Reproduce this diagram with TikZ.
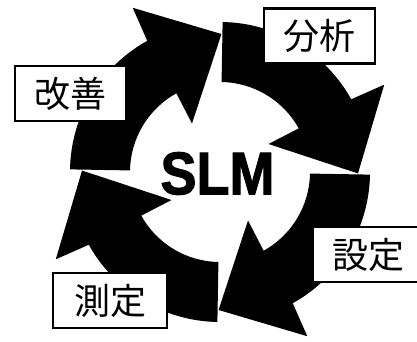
\documentclass[tikz,border=0pt]{standalone}
\usepackage{fontspec}
\newfontfamily\jpfont{Noto Sans CJK JP}
\newfontfamily\slmfont[BoldFeatures={FakeBold=2}]{Liberation Sans}
\begin{document}
\begin{tikzpicture}[x=1pt,y=1pt,
  cyclearrow/.style={fill=black},
  labelbox/.style={draw=black, line width=2.2pt, fill=white, minimum width=111pt,
    minimum height=55pt, inner sep=0pt, font=\jpfont\fontsize{36}{40}\selectfont},
  slmtext/.style={font=\slmfont\bfseries\fontsize{60}{60}\selectfont, inner sep=0pt}
]
\useasboundingbox (0,0) rectangle (417,341);
\fill[white] (0,0) rectangle (417,341);
\begin{scope}[shift={(220,169)}]
\foreach \a in {89,-1,-91,179} {
  \pgfmathsetmacro{\b}{\a-60}
  \pgfmathsetmacro{\ob}{\a-61}
  \pgfmathsetmacro{\tp}{\a-89.6}
  \pgfmathsetmacro{\ib}{\a-59}
  \fill[cyclearrow] (\a:150) arc[start angle=\a, end angle=\b, radius=150]
    -- (\ob:186) -- (\tp:138) -- (\ib:56) -- (\b:90)
    arc[start angle=\b, end angle=\a, radius=90] -- cycle;
}
\end{scope}
\node[labelbox] (bunseki) at (319.5,305) {分析};
\node[labelbox] (kaizen) at (70.5,247.5) {改善};
\node[labelbox, minimum width=114pt] (sokutei) at (110,40.5) {測定};
\node[labelbox] (settei) at (368.5,86.5) {設定};
\node[slmtext, xscale=0.9] (slm) at (217.5,167.5) {SLM};
\end{tikzpicture}
\end{document}
